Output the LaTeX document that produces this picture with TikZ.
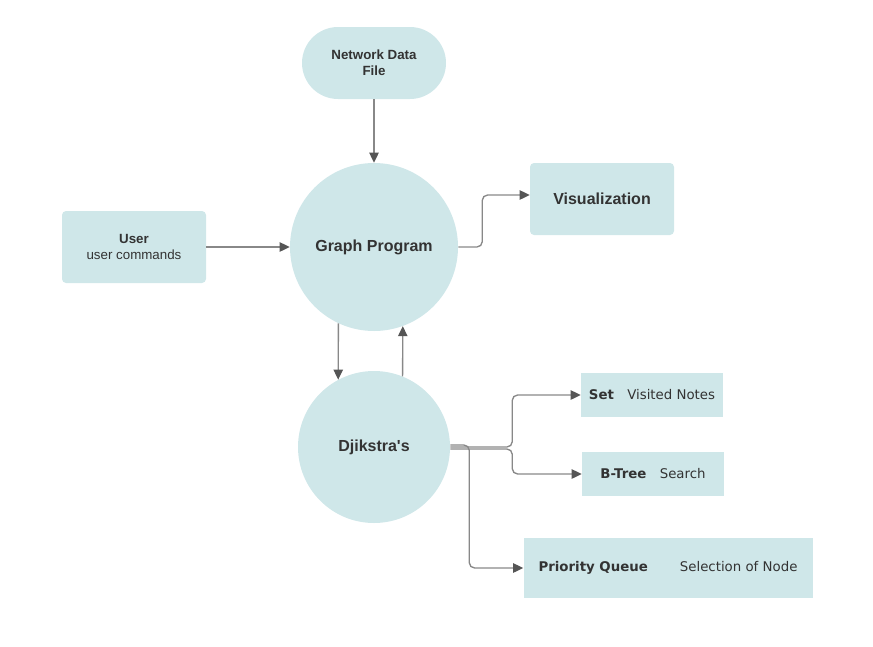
\documentclass[tikz,border=0pt]{standalone}
\usepackage{fontspec}
\setmainfont{Liberation Sans}[Ligatures=TeXOff]
\newfontfamily\verdanafont{DejaVu Sans}
\usetikzlibrary{arrows.meta,positioning}
\definecolor{paleteal}{RGB}{207,231,233}
\definecolor{darktext}{RGB}{51,51,51}
\definecolor{linegray}{RGB}{136,136,136}
\definecolor{headgray}{RGB}{85,85,85}

\begin{document}
\begin{tikzpicture}[x=0.75pt, y=-0.75pt]
\tikzstyle{process} = [rectangle, rounded corners=3pt, fill=paleteal, text=darktext, minimum width=108pt, minimum height=54pt, inner sep=0pt, align=center, font=\fontsize{10}{12}\selectfont]
\tikzstyle{terminal} = [process, rounded corners=27pt, font=\bfseries\fontsize{10}{12}\selectfont]
\tikzstyle{hub} = [circle, fill=paleteal, text=darktext, inner sep=0pt, font=\bfseries\fontsize{12}{14}\selectfont]
\tikzstyle{store} = [rectangle, fill=paleteal, text=darktext, inner sep=0pt, minimum width=106.5pt, minimum height=33pt, font=\verdanafont\fontsize{10}{12}\selectfont]
\tikzstyle{arrow} = [draw=linegray, line width=1pt, rounded corners=4pt, -{Triangle[length=7.5pt,width=7pt,color=headgray]}]

\useasboundingbox (0,0) rectangle (873,646);

\node (NetworkData) [terminal] at (374,63) {Network Data\\File};
\node (GraphProgram) [hub, minimum size=126pt] at (374,247) {Graph Program};
\node (User) [process] at (134,247) {\textbf{User}\\user commands};
\node (Visualization) [process, font=\bfseries\fontsize{12}{14}\selectfont] at (602,199) {Visualization};
\node (Djikstra) [hub, minimum size=114pt] at (374,447) {Djikstra's};
\node (SetBox) [store] at (652,395) {\textbf{Set}\hspace{10pt}Visited Notes};
\node (BTree) [store] at (653,474) {\textbf{B-Tree}\hspace{10pt}Search};
\node (PriorityQueue) [store, minimum width=216.75pt, minimum height=45pt] at (668,568) {\textbf{Priority Queue}\hspace{24pt}Selection of Node};

\draw [arrow] (NetworkData) -- (GraphProgram);
\draw [arrow] (User) -- (GraphProgram);
\draw [arrow] (GraphProgram.east) -- ++(24,0) |- ([yshift=3pt]Visualization.west);
\draw [arrow] (GraphProgram.245) -- (Djikstra.118);
\draw [arrow] (Djikstra.68) -- (GraphProgram.290);

\draw [arrow] (Djikstra.east) -- ++(62,0) |- (SetBox.west);
\draw [arrow] ([yshift=-1.5pt]Djikstra.east) -- ++(62,0) |- (BTree.west);
\draw [arrow] ([yshift=1.5pt]Djikstra.east) -- ++(19,0) |- (PriorityQueue.west);
\end{tikzpicture}
\end{document}
